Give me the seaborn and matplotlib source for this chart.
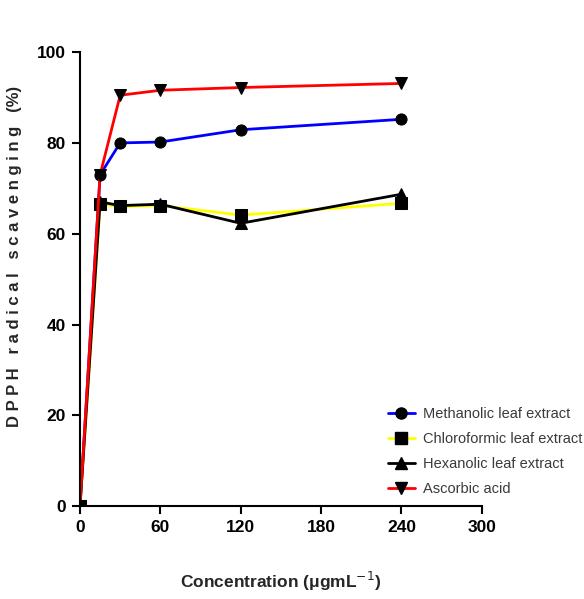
import matplotlib
matplotlib.use("Agg")
import matplotlib.pyplot as plt
import seaborn as sns
import pandas as pd
from matplotlib.lines import Line2D

conc = [0, 15, 30, 60, 120, 240]
methanolic = [0, 73.0, 80.0, 80.2, 82.9, 85.2]
chloroformic = [0, 66.5, 66.0, 66.2, 64.1, 66.7]
hexanolic = [0, 67.0, 66.2, 66.5, 62.3, 68.7]
ascorbic = [0, 73.0, 90.5, 91.6, 92.2, 93.1]

series = ["Methanolic leaf extract", "Chloroformic leaf extract",
          "Hexanolic leaf extract", "Ascorbic acid"]
values = [methanolic, chloroformic, hexanolic, ascorbic]
colors = ["#0000ff", "#ffff00", "#000000", "#ff0000"]
markers = ["o", "s", "^", "v"]

rows = []
for name, vals in zip(series, values):
    for c, v in zip(conc, vals):
        rows.append({"conc": c, "val": v, "series": name})
df = pd.DataFrame(rows)

sns.set_style("white")
plt.rcParams["font.family"] = ["Liberation Sans", "DejaVu Sans"]

fig = plt.figure(figsize=(5.84, 5.99), dpi=100)
ax = fig.add_axes([0.137, 0.155, 0.688, 0.758])

sns.lineplot(data=df, x="conc", y="val", hue="series", style="series",
             hue_order=series, style_order=series,
             palette=dict(zip(series, colors)),
             markers=dict(zip(series, markers)), dashes=False,
             markersize=8, markeredgecolor="black", markerfacecolor="black",
             linewidth=2, ax=ax, legend=False)

for line in ax.lines:
    line.set_markerfacecolor("black")
    line.set_markeredgecolor("black")

ax.set_xlim(0, 300)
ax.set_ylim(0, 100)
ax.set_xticks([0, 60, 120, 180, 240, 300])
ax.set_yticks([0, 20, 40, 60, 80, 100])
for s in ["top", "right"]:
    ax.spines[s].set_visible(False)
for s in ["left", "bottom"]:
    ax.spines[s].set_color("black")
    ax.spines[s].set_linewidth(1.5)
ax.tick_params(axis="both", direction="out", length=6, width=1.5, colors="black",
               labelsize=12.5, bottom=True, left=True, pad=4)
for lab in ax.get_xticklabels() + ax.get_yticklabels():
    lab.set_fontweight("bold")

ax.set_xlabel("Concentration (μgmL$^{-1}$)", fontsize=12.5, fontweight="bold")
ax.xaxis.set_label_coords(0.5, -0.14)
ax.set_ylabel("D P P H   r a d i c a l   s c a v e n g i n g   (%)", fontsize=12,
              fontweight="bold")
ax.yaxis.set_label_coords(-0.145, 0.55)

handles = [Line2D([0], [0], color=c, lw=2, marker=m, markersize=8,
                  markerfacecolor="black", markeredgecolor="black")
           for c, m in zip(colors, markers)]
leg = fig.legend(handles, series, loc="lower left", bbox_to_anchor=(0.665, 0.172),
                 frameon=False, fontsize=10.5, handlelength=1.8, labelspacing=0.75,
                 handletextpad=0.6, borderaxespad=0, borderpad=0)
for t in leg.get_texts():
    t.set_color("#3a3a3a")

fig.savefig("out.png", dpi=100)
